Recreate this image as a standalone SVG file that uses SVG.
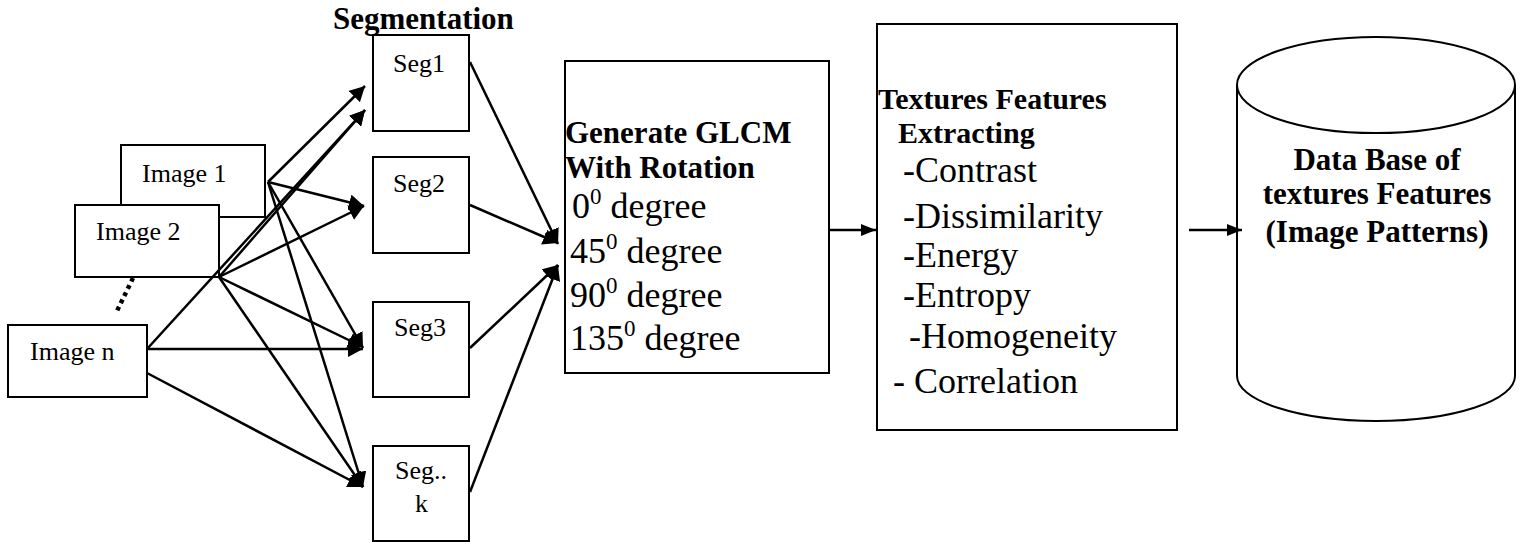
<svg xmlns="http://www.w3.org/2000/svg" width="1523" height="542" viewBox="0 0 1523 542">
<style>
.box{fill:#fff;stroke:#000;stroke-width:2}
.ln{fill:none;stroke:#000;stroke-width:2.5}
.t{font-family:"Liberation Serif","Times New Roman",serif;fill:#000}
.r26{font-size:26px}
.r36{font-size:36px}
.b31{font-size:31px;font-weight:bold}
.b30{font-size:30px;font-weight:bold}
.sup{font-size:23px}
</style>
<defs>
<marker id="ah" markerUnits="userSpaceOnUse" markerWidth="16" markerHeight="16" refX="15" refY="8" orient="auto">
<path d="M0,0 L15,8 L0,16 z" fill="#000"/>
</marker>
<marker id="ah2" markerUnits="userSpaceOnUse" markerWidth="16" markerHeight="12" refX="15" refY="6" orient="auto">
<path d="M0,0 L15,6 L0,12 z" fill="#000"/>
</marker>
</defs>

<text id="segmentation-title" class="t b31" x="333" y="29">Segmentation</text>

<g id="image1"><rect class="box" x="121" y="145" width="144" height="72"/><text class="t r26" x="142" y="182">Image 1</text></g>
<g id="image2"><rect class="box" x="75" y="205" width="144" height="72"/><text class="t r26" x="96" y="240">Image 2</text></g>
<g id="imagen"><rect class="box" x="8" y="325" width="139" height="72"/><text class="t r26" x="30" y="360">Image n</text></g>

<g id="seg1"><rect class="box" x="373" y="35" width="96" height="96"/><text class="t r26" x="393" y="72">Seg1</text></g>
<g id="seg2"><rect class="box" x="373" y="157" width="96" height="96"/><text class="t r26" x="393" y="192">Seg2</text></g>
<g id="seg3"><rect class="box" x="373" y="302" width="96" height="95"/><text class="t r26" x="394" y="336">Seg3</text></g>
<g id="segk"><rect class="box" x="373" y="446" width="96" height="95"/><text class="t r26" x="395" y="479">Seg..</text><text class="t r26" x="415" y="512">k</text></g>

<g id="glcm"><rect class="box" x="565" y="61" width="264" height="312"/>
<text class="t b31" x="565" y="143">Generate GLCM</text>
<text class="t b31" x="565" y="178">With Rotation</text>
<text class="t r36" x="572" y="218">0<tspan class="sup" dy="-14">0</tspan><tspan dy="14"> degree</tspan></text>
<text class="t r36" x="570" y="263">45<tspan class="sup" dy="-14">0</tspan><tspan dy="14"> degree</tspan></text>
<text class="t r36" x="570" y="307">90<tspan class="sup" dy="-14">0</tspan><tspan dy="14"> degree</tspan></text>
<text class="t r36" x="570" y="350">135<tspan class="sup" dy="-14">0</tspan><tspan dy="14"> degree</tspan></text>
</g>

<g id="textures"><rect class="box" x="877" y="24" width="300" height="406"/>
<text class="t b30" x="878" y="109">Textures Features</text>
<text class="t b30" x="898" y="143">Extracting</text>
<text class="t r36" x="903" y="182">-Contrast</text>
<text class="t r36" x="903" y="228">-Dissimilarity</text>
<text class="t r36" x="903" y="267">-Energy</text>
<text class="t r36" x="903" y="307">-Entropy</text>
<text class="t r36" x="909" y="348">-Homogeneity</text>
<text class="t r36" x="893" y="393">- Correlation</text>
</g>

<g id="database">
<path class="box" d="M1237,85 L1237,376 A139,45 0 0 0 1515,376 L1515,85"/>
<ellipse class="box" cx="1376" cy="85" rx="139" ry="48"/>
<text class="t b31" x="1377" y="170" text-anchor="middle">Data Base of</text>
<text class="t b31" x="1377" y="204" text-anchor="middle">textures Features</text>
<text class="t b31" x="1377" y="242" text-anchor="middle">(Image Patterns)</text>
</g>

<g id="connectors">
<line class="ln" x1="268" y1="182" x2="365" y2="86" marker-end="url(#ah)"/>
<line class="ln" x1="219" y1="277" x2="365" y2="110" marker-end="url(#ah)"/>
<line class="ln" x1="147" y1="349" x2="365" y2="110" marker-end="url(#ah)"/>
<line class="ln" x1="268" y1="182" x2="364" y2="206" marker-end="url(#ah)"/>
<line class="ln" x1="219" y1="277" x2="364" y2="206" marker-end="url(#ah)"/>
<line class="ln" x1="268" y1="182" x2="363" y2="348" marker-end="url(#ah)"/>
<line class="ln" x1="219" y1="277" x2="363" y2="347" marker-end="url(#ah)"/>
<line class="ln" x1="147" y1="349" x2="363" y2="349" marker-end="url(#ah)"/>
<line class="ln" x1="268" y1="182" x2="363" y2="487" marker-end="url(#ah)"/>
<line class="ln" x1="219" y1="277" x2="363" y2="487" marker-end="url(#ah)"/>
<line class="ln" x1="147" y1="373" x2="363" y2="487" marker-end="url(#ah)"/>
<line class="ln" x1="470" y1="62" x2="558" y2="244" marker-end="url(#ah)"/>
<line class="ln" x1="470" y1="205" x2="558" y2="243" marker-end="url(#ah)"/>
<line class="ln" x1="470" y1="348" x2="558" y2="265" marker-end="url(#ah)"/>
<line class="ln" x1="470" y1="492" x2="558" y2="265" marker-end="url(#ah)"/>
<line class="ln" x1="829" y1="230" x2="876" y2="230" marker-end="url(#ah2)"/>
<line class="ln" x1="1189" y1="230" x2="1242" y2="230" marker-end="url(#ah2)"/>
<line fill="none" stroke="#000" stroke-width="4.5" stroke-dasharray="4,4" x1="133" y1="278" x2="116" y2="313"/>
</g>
</svg>
